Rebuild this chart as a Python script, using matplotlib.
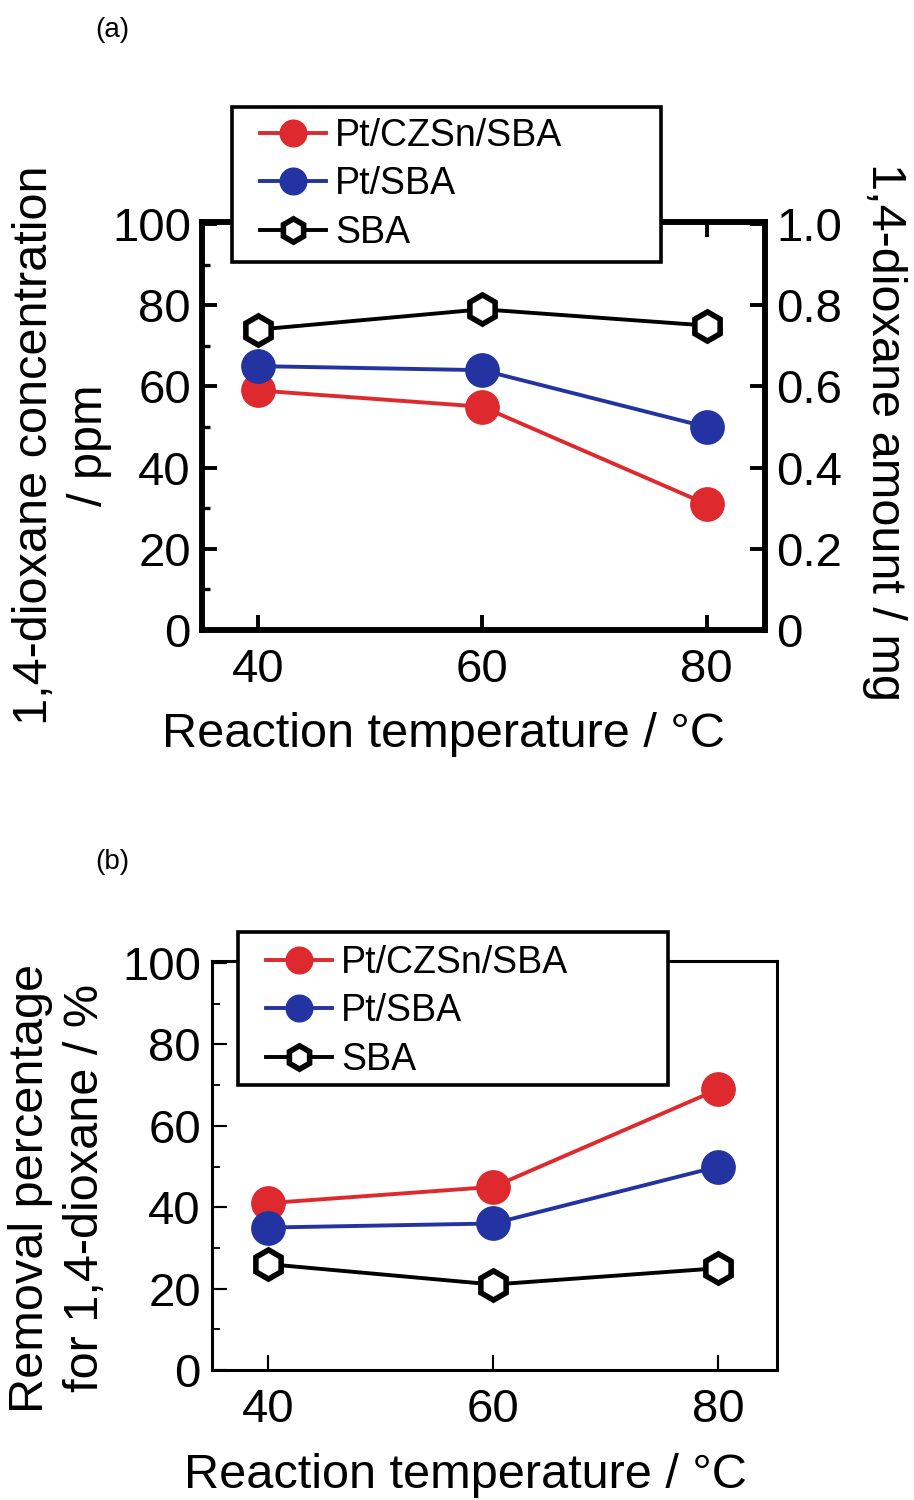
import matplotlib
matplotlib.use('Agg')
import matplotlib.pyplot as plt
from matplotlib.ticker import MultipleLocator
from matplotlib.patches import Rectangle

plt.rcParams['font.family'] = ['Liberation Sans', 'DejaVu Sans']

# data
temps = [40, 60, 80]
conc_ptczsn = [59, 55, 31]
conc_ptsba = [65, 64, 50]
conc_sba = [74, 79, 75]

rem_ptczsn = [41, 45, 69]
rem_ptsba = [35, 36, 50]
rem_sba = [26, 21, 25]

names = ['Pt/CZSn/SBA', 'Pt/SBA', 'SBA']
red = '#de2a2e'
blue = '#2433a2'

W, H = 914, 1500
fig = plt.figure(figsize=(9.14, 15), dpi=100)

ax1 = fig.add_axes([0.221, 0.58, 0.616, 0.272])
ax2 = fig.add_axes([0.232, 0.0867, 0.618, 0.2726])


def draw(ax, ys, spine_w):
    hs = []
    for y, c, n in zip(ys, [red, blue, 'black'], names):
        if c == 'black':
            h, = ax.plot(temps, y, '-', color='black', lw=2.8, marker='h', ms=21,
                         mfc='white', mec='black', mew=4, label=n, zorder=3)
        else:
            h, = ax.plot(temps, y, '-', color=c, lw=2.8, marker='o', ms=24,
                         mfc=c, mec=c, label=n, zorder=3)
        hs.append(h)
    ax.set_xlim(35, 85.2)
    ax.set_ylim(0, 100.5)
    ax.set_xticks(temps)
    ax.yaxis.set_major_locator(MultipleLocator(20))
    ax.yaxis.set_minor_locator(MultipleLocator(10))
    for s in ax.spines.values():
        s.set_linewidth(spine_w)
    ax.tick_params(axis='both', which='major', direction='in', length=11, width=spine_w * 0.7,
                   labelsize=34, pad=8)
    ax.tick_params(axis='x', which='major', pad=13)
    ax.tick_params(axis='y', which='minor', direction='in', length=6, width=spine_w * 0.6)
    return hs


hs = draw(ax1, [conc_ptczsn, conc_ptsba, conc_sba], 4.0)
ax1.tick_params(axis='x', which='major', top=True)

# right axis, amount in mg
axr = ax1.twinx()
axr.set_ylim(0, 1.005)
axr.set_yticks([0, 0.2, 0.4, 0.6, 0.8, 1.0])
axr.set_yticklabels(['0', '0.2', '0.4', '0.6', '0.8', '1.0'])
axr.tick_params(axis='y', direction='in', length=11, width=2.8, labelsize=34, pad=8)
for s in axr.spines.values():
    s.set_linewidth(4.0)

hs2 = draw(ax2, [rem_ptczsn, rem_ptsba, rem_sba], 2.2)

# legend boxes (pixel boxes from the picture) with the entries inside
for h, (bx0, by0, bx1, by1), dy in [(hs, (232, 107, 661, 262), 11),
                                     (hs2, (238, 932, 668, 1085), 13)]:
    rect = Rectangle((bx0 / W, 1 - by1 / H), (bx1 - bx0) / W, (by1 - by0) / H,
                     transform=fig.transFigure, facecolor='white', edgecolor='black',
                     lw=2.6, zorder=5)
    fig.patches.append(rect)
    leg = fig.legend(h, names, loc='upper left',
                     bbox_to_anchor=((bx0 + 28) / W, 1 - (by0 + dy) / H),
                     bbox_transform=fig.transFigure, fontsize=27, frameon=False,
                     handlelength=1.75, handletextpad=0.25, borderpad=0,
                     labelspacing=0.33, borderaxespad=0, markerscale=0.8)
    leg.set_zorder(10)

# axis labels
fig.text(62 / W, 1 - 445 / H, '1,4-dioxane concentration\n/ ppm', rotation=90,
         ha='center', va='center', fontsize=35, linespacing=1.3, multialignment='center')
fig.text(885 / W, 1 - 432 / H, '1,4-dioxane amount / mg', rotation=-90,
         ha='center', va='center', fontsize=35)
fig.text(443 / W, 1 - 734 / H, 'Reaction temperature / °C', ha='center', va='center',
         fontsize=35)

fig.text(58 / W, 1 - 1188 / H, 'Removal percentage\nfor 1,4-dioxane / %', rotation=90,
         ha='center', va='center', fontsize=35, linespacing=1.3, multialignment='center')
fig.text(465 / W, 1 - 1475 / H, 'Reaction temperature / °C', ha='center', va='center',
         fontsize=35)

fig.text(112 / W, 1 - 30 / H, '(a)', ha='center', va='center', fontsize=20)
fig.text(112 / W, 1 - 862 / H, '(b)', ha='center', va='center', fontsize=20)

fig.savefig('out.png', dpi=100, facecolor='white')
